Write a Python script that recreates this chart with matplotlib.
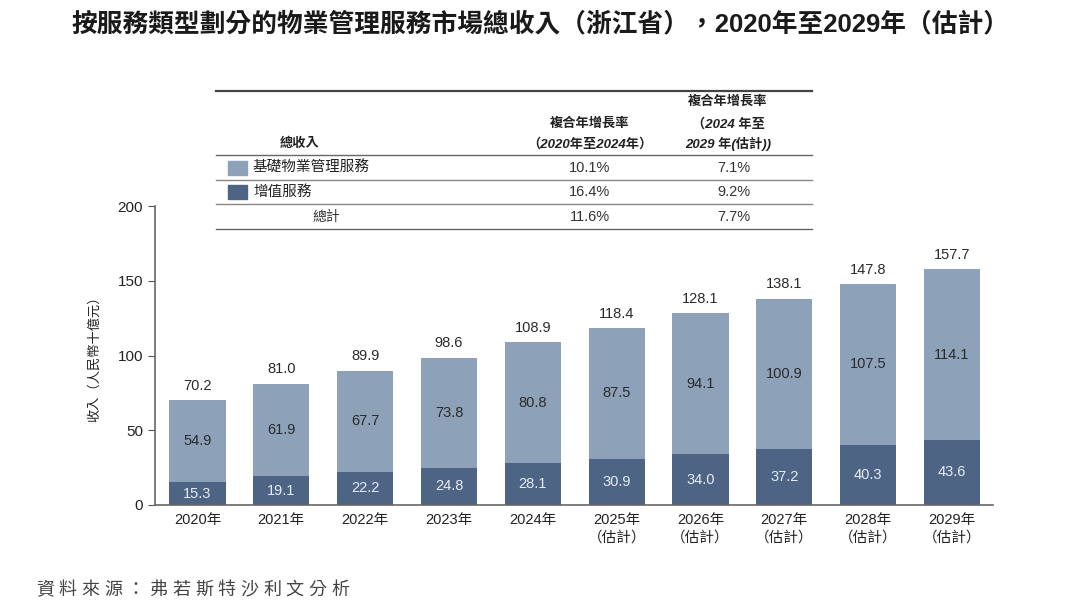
import numpy as np
import matplotlib
matplotlib.use('Agg')
import matplotlib.pyplot as plt
from matplotlib.lines import Line2D
from matplotlib.patches import Rectangle

plt.rcParams['font.family'] = ['Liberation Sans', 'Noto Sans CJK TC', 'DejaVu Sans']

years = ['2020年', '2021年', '2022年', '2023年', '2024年',
         '2025年\n（估計）', '2026年\n（估計）', '2027年\n（估計）',
         '2028年\n（估計）', '2029年\n（估計）']
basic = [54.9, 61.9, 67.7, 73.8, 80.8, 87.5, 94.1, 100.9, 107.5, 114.1]
value_added = [15.3, 19.1, 22.2, 24.8, 28.1, 30.9, 34.0, 37.2, 40.3, 43.6]
totals = [70.2, 81.0, 89.9, 98.6, 108.9, 118.4, 128.1, 138.1, 147.8, 157.7]

series_names = ['基礎物業管理服務', '增值服務']
cagr_20_24 = ['10.1%', '16.4%', '11.6%']
cagr_24_29 = ['7.1%', '9.2%', '7.7%']

c_light = '#8da2b8'
c_dark = '#4d6485'

W, H = 1080, 608
fig = plt.figure(figsize=(W / 100, H / 100), dpi=100)
fig.patch.set_facecolor('white')

def fx(x):
    return x / W

def fy(y):
    return 1 - y / H

ax = fig.add_axes([fx(155), fy(505), fx(993) - fx(155), fy(206) - fy(505)])
x = np.arange(len(years))
ax.bar(x, value_added, width=0.67, color=c_dark)
ax.bar(x, basic, width=0.67, bottom=value_added, color=c_light)

for i in range(len(years)):
    ax.text(x[i], value_added[i] / 2, f'{value_added[i]:.1f}', ha='center', va='center',
            fontsize=10.5, color='#e6ecf3')
    ax.text(x[i], value_added[i] + basic[i] / 2, f'{basic[i]:.1f}', ha='center', va='center',
            fontsize=10.5, color='#2a2a2a')
    ax.text(x[i], totals[i] + 5, f'{totals[i]:.1f}', ha='center', va='bottom',
            fontsize=10.5, color='#2a2a2a')

ax.set_xlim(-0.507, 9.49)
ax.set_ylim(0, 200)
ax.set_yticks([0, 50, 100, 150, 200])
ax.set_xticks(x)
ax.set_xticklabels(years, fontsize=10.5, color='#222222', linespacing=1.3)
ax.tick_params(axis='x', length=0, pad=6)
ax.tick_params(axis='y', length=5, labelsize=11, colors='#555555', labelcolor='#222222')
for s in ['top', 'right']:
    ax.spines[s].set_visible(False)
for s in ['left', 'bottom']:
    ax.spines[s].set_color('#666666')
    ax.spines[s].set_linewidth(1.2)
ax.set_ylabel('收入（人民幣十億元）', fontsize=9.5, color='#222222', labelpad=12)

# title
fig.text(fx(540), fy(24), '按服務類型劃分的物業管理服務市場總收入（浙江省），2020年至2029年（估計）',
         ha='center', va='center', fontsize=18.5, fontweight='bold', color='#1a1a1a')

# table above the chart
def hline(y, lw, color):
    fig.add_artist(Line2D([fx(216), fx(812)], [fy(y), fy(y)], lw=lw, color=color))

hline(91, 1.6, '#444444')
hline(155, 1.0, '#666666')
hline(180, 1.0, '#888888')
hline(204, 1.0, '#888888')
hline(229, 1.0, '#666666')

hdr = dict(ha='center', va='center', fontsize=9.5, style='italic',
           fontweight='bold', color='#222222')
fig.text(fx(300), fy(144), '總收入', **hdr)
fig.text(fx(590), fy(124), '複合年增長率', **hdr)
fig.text(fx(590), fy(144), '（2020年至2024年）', **hdr)
fig.text(fx(728), fy(102), '複合年增長率', **hdr)
fig.text(fx(728), fy(124), '（2024 年至', **hdr)
fig.text(fx(728), fy(144), '2029 年(估計))', **hdr)

row_y = [168, 192, 217]
for i, (name, col) in enumerate(zip(series_names, [c_light, c_dark])):
    fig.add_artist(Rectangle((fx(228), fy(row_y[i] + 7)), fx(19), fy(0) - fy(14),
                             color=col, transform=fig.transFigure))
    fig.text(fx(253), fy(row_y[i]), name, ha='left', va='center', fontsize=10.5,
             color='#222222')
fig.text(fx(326), fy(row_y[2]), '總計', ha='center', va='center', fontsize=10,
         style='italic', color='#333333')
for i in range(3):
    fig.text(fx(590), fy(row_y[i]), cagr_20_24[i], ha='center', va='center',
             fontsize=10.5, color='#333333')
    fig.text(fx(734), fy(row_y[i]), cagr_24_29[i], ha='center', va='center',
             fontsize=10.5, color='#333333')

# source, letter-spaced
source = '資料來源：弗若斯特沙利文分析'
for k, ch in enumerate(source):
    fig.text(fx(36 + k * 22.7), fy(590), ch, ha='left', va='center',
             fontsize=13, style='italic', color='#444444')

plt.savefig('out.png', dpi=100)
